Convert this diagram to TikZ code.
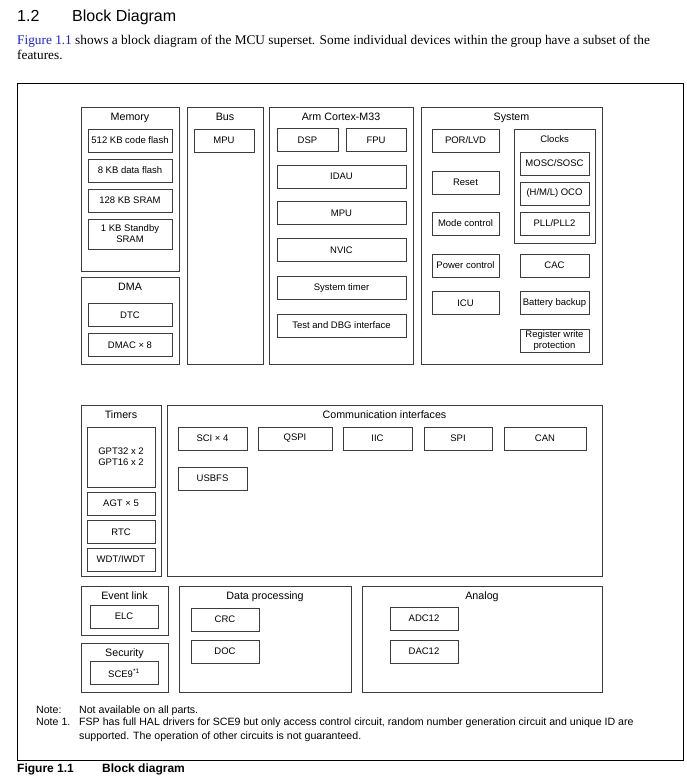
\documentclass[tikz,border=0pt]{standalone}
\usepackage{fontspec}
\setmainfont{Liberation Serif}
\setsansfont{Liberation Sans}
\usetikzlibrary{positioning}
\definecolor{figblue}{RGB}{30,30,230}
\definecolor{edge}{RGB}{60,60,60}

\begin{document}
\begin{tikzpicture}[
    x=1pt, y=-1pt,
    font=\sffamily,
    group/.style={draw=edge, line width=0.75pt, inner sep=0pt},
    unit/.style={draw=edge, line width=0.75pt, inner sep=0pt, align=center,
      minimum height=23pt, font=\sffamily\fontsize{9.5}{11}\selectfont},
    title/.style={anchor=base, inner sep=0pt,
      font=\sffamily\fontsize{10.7}{12}\selectfont},
    subtitle/.style={title, font=\sffamily\fontsize{9.5}{11}\selectfont},
    note/.style={anchor=base west, inner sep=0pt,
      font=\sffamily\fontsize{10.6}{13}\selectfont},
  ]
  \useasboundingbox (0,0) rectangle (687,777);

  % Heading and text above the figure
  \node[anchor=base west, inner sep=0pt, font=\sffamily\fontsize{16}{19}\selectfont]
    (secnum) at (17,21) {1.2};
  \node[anchor=base west, inner sep=0pt, font=\sffamily\fontsize{16}{19}\selectfont]
    (sectitle) at (72,21) {Block Diagram};
  \node[anchor=base west, inner sep=0pt, font=\rmfamily\fontsize{13.3}{15}\selectfont]
    (intro1) at (17,44) {\textcolor{figblue}{Figure 1.1} shows a block diagram of the
    MCU superset. Some individual devices within the group have a subset of the};
  \node[anchor=base west, inner sep=0pt, font=\rmfamily\fontsize{13.3}{15}\selectfont]
    (intro2) at (17,59) {features.};

  % Outer frame
  \node[draw=black, line width=0.8pt, inner sep=0pt, minimum width=666pt,
    minimum height=677pt] (frame) at (350,421.5) {};

  % Groups
  \foreach \name/\cx/\cy/\w/\h/\text in {
      mem/130/189/98/164/Memory, dma/130/320.5/98/87/DMA,
      bus/225/235.5/76/257/Bus, arm/341/235.5/144/257/Arm Cortex-M33,
      sys/511.5/235.5/181/257/System,
      tim/121/490.5/80/171/Timers, com/384.5/490.5/435/171/Communication interfaces,
      evt/124.5/610.5/87/49/Event link, sec/124.5/667.5/87/49/Security,
      dat/265/639/172/106/Data processing, ana/482/639/240/106/Analog} {
    \node[group, minimum width=\w pt, minimum height=\h pt] (\name) at (\cx,\cy) {};
    \node[title] (\name-t) at ([yshift=-14pt] \name.north) {\text};
  }

  % Clocks, inside System
  \node[group, minimum width=81pt, minimum height=114pt] (clk) at (554.5,186) {};
  \node[subtitle] (clk-t) at ([yshift=-14pt] clk.north) {Clocks};

  % Units
  \foreach \name/\cx/\cy/\w/\text in {
      codeflash/130/140.5/84/512 KB code flash, dataflash/130/170.5/84/8 KB data flash,
      sram/130/200.5/84/128 KB SRAM,
      dtc/130/315/84/DTC, dmac/130/345/84/DMAC × 8,
      busmpu/224/140.5/60/MPU,
      dsp/307.5/140/61/DSP, fpu/376/140/60/FPU,
      idau/341.5/176.5/129/IDAU, armmpu/341.5/213/129/MPU, nvic/341.5/250/129/NVIC,
      systimer/341.5/288/129/System timer, dbg/341.5/325.5/129/Test and DBG interface,
      por/465.5/140.5/67/{POR/LVD}, reset/465.5/182.5/67/Reset,
      mode/465.5/223.5/67/Mode control, power/465.5/265.5/67/Power control,
      icu/465.5/303/67/ICU,
      mosc/554.5/163.5/69/{MOSC/SOSC}, oco/554.5/193.5/69/{(H/M/L) OCO},
      pll/554.5/223.5/69/{PLL/PLL2}, cac/554.5/265.5/69/CAC,
      batt/554.5/303/69/Battery backup,
      regprot/554.5/340.5/69/{Register write\\protection},
      agt/121/503.5/68/AGT × 5, rtc/121/532/68/RTC, wdt/121/559.5/68/{WDT/IWDT},
      sci/212.5/438.5/69/SCI × 4, qspi/295/438.5/74/QSPI, iic/377.5/438.5/69/IIC,
      spi/458/438.5/68/SPI, can/545/438.5/82/CAN, usbfs/212.5/478.5/69/USBFS,
      elc/124/616.5/68/ELC, sce/124/673/68/SCE9\textsuperscript{*1},
      crc/225/619.5/68/CRC, doc/225/651.5/68/DOC,
      adc/424/618.5/68/ADC12, dac/424/651.5/68/DAC12}
    \node[unit, minimum width=\w pt] (\name) at (\cx,\cy) {\text};

  % Taller units
  \node[unit, minimum width=84pt, minimum height=30pt] (sbsram) at (130,234)
    {1 KB Standby\\SRAM};
  \node[unit, minimum width=68pt, minimum height=60pt] (gpt) at (121,457)
    {GPT32 x 2\\GPT16 x 2};

  % Notes
  \node[note] (note0) at (36,713.5) {Note:};
  \node[note] (note0t) at (79,713.5) {Not available on all parts.};
  \node[note] (note1) at (36,725.5) {Note 1.};
  \node[note] (note1t) at (79,725.5) {FSP has full HAL drivers for SCE9 but only access
    control circuit, random number generation circuit and unique ID are};
  \node[note] (note1u) at (79,739.5) {supported. The operation of other circuits is not
    guaranteed.};

  % Caption
  \node[anchor=base west, inner sep=0pt, font=\sffamily\bfseries\fontsize{12}{14}\selectfont]
    (capnum) at (17,772) {Figure 1.1};
  \node[anchor=base west, inner sep=0pt, font=\sffamily\bfseries\fontsize{12}{14}\selectfont]
    (captext) at (102,772) {Block diagram};
\end{tikzpicture}
\end{document}
